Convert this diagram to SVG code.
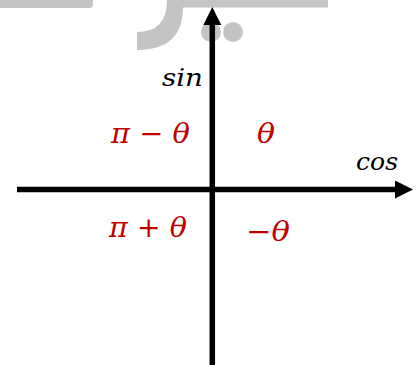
<svg xmlns="http://www.w3.org/2000/svg" width="419" height="365" viewBox="0 0 419 365">
<style>
.wm{fill:#c4c4c4}
.ax{stroke:#000;stroke-width:5.5;fill:none}
.lbl{font-family:"DejaVu Serif","Liberation Serif",serif;font-style:italic;font-size:24px;fill:#000}
.ang{font-family:"DejaVu Serif","Liberation Serif",serif;font-style:italic;font-size:28px;fill:#c00000}
.op{font-style:normal}
</style>
<defs>
<marker id="ah" markerUnits="userSpaceOnUse" markerWidth="18" markerHeight="18" viewBox="0 0 18 18" refX="0" refY="9" orient="auto">
<path d="M0,0 L18,9 L0,18 Z" fill="#000"/>
</marker>
</defs>
<rect width="419" height="365" fill="#fff"/>
<g id="watermark">
<path class="wm" d="M0,0 H93 V4 Q93,8 89,8 H0 Z"/>
<path class="wm" d="M167,0 H328 V7.5 H183 Q183,50 137,50 V32 Q167,32 167,0 Z"/>
<circle class="wm" cx="211" cy="32" r="10"/>
<circle class="wm" cx="233" cy="32" r="10"/>
</g>
<g id="connectors">
<line class="ax" x1="212.3" y1="365" x2="212.3" y2="25" marker-end="url(#ah)"/>
<line class="ax" x1="17" y1="189.5" x2="395" y2="189.5" marker-end="url(#ah)"/>
</g>
<g id="sin"><text class="lbl" x="162" y="86" textLength="41" lengthAdjust="spacingAndGlyphs">sin</text></g>
<g id="cos"><text class="lbl" x="356" y="170" textLength="42" lengthAdjust="spacingAndGlyphs">cos</text></g>
<g id="q2"><text class="ang" x="111" y="143" textLength="79" lengthAdjust="spacingAndGlyphs">π <tspan class="op">−</tspan> θ</text></g>
<g id="q1"><text class="ang" x="257" y="143" textLength="18" lengthAdjust="spacingAndGlyphs">θ</text></g>
<g id="q3"><text class="ang" x="109" y="237" textLength="78" lengthAdjust="spacingAndGlyphs">π <tspan class="op">+</tspan> θ</text></g>
<g id="q4"><text class="ang" x="246" y="241" textLength="44" lengthAdjust="spacingAndGlyphs"><tspan class="op">−</tspan>θ</text></g>
</svg>
